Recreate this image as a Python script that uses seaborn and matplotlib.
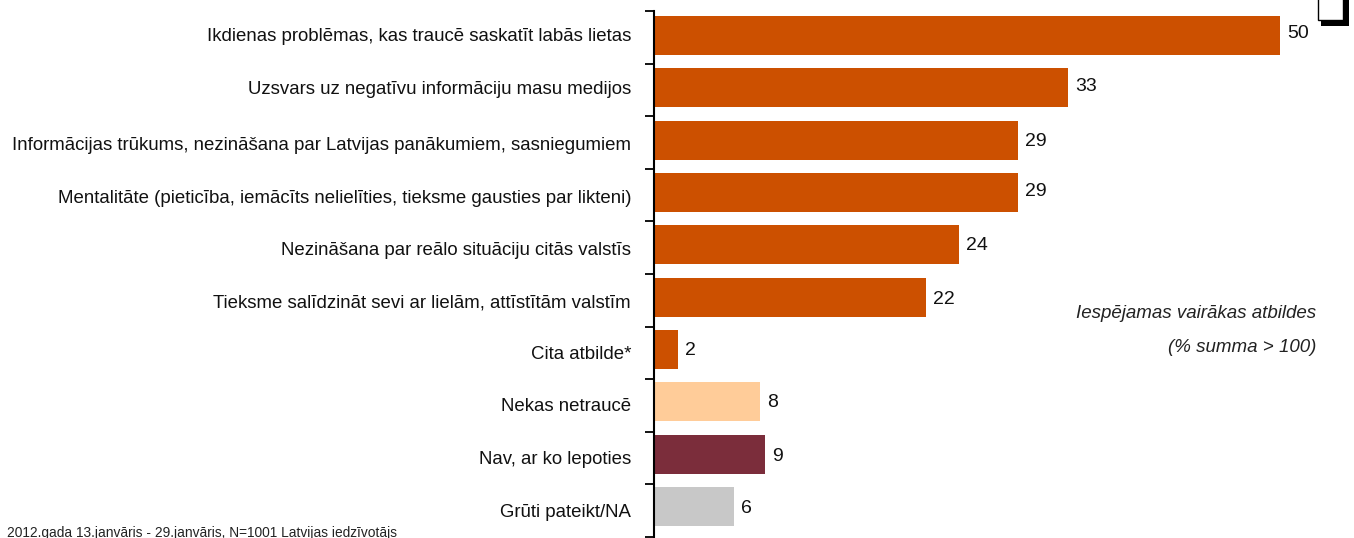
import matplotlib
matplotlib.use("Agg")
import matplotlib.pyplot as plt
from matplotlib.patches import Rectangle
from matplotlib.transforms import ScaledTranslation
import seaborn as sns
import pandas as pd
import numpy as np

categories = ["Ikdienas problēmas, kas traucē saskatīt labās lietas",
              "Uzsvars uz negatīvu informāciju masu medijos",
              "Informācijas trūkums, nezināšana par Latvijas panākumiem, sasniegumiem",
              "Mentalitāte (pieticība, iemācīts nelielīties, tieksme gausties par likteni)",
              "Nezināšana par reālo situāciju citās valstīs",
              "Tieksme salīdzināt sevi ar lielām, attīstītām valstīm",
              "Cita atbilde*", "Nekas netraucē", "Nav, ar ko lepoties", "Grūti pateikt/NA"]
values = [50, 33.1, 29.1, 29.1, 24.4, 21.7, 1.9, 8.5, 8.9, 6.4]
value_labels = ["50", "33", "29", "29", "24", "22", "2", "8", "9", "6"]
colors = ["#CC5000"] * 7 + ["#FFCC99", "#7B2D3B", "#C8C8C8"]
note = "Iespējamas vairākas atbildes\n(% summa > 100)"
footer = "2012.gada 13.janvāris - 29.janvāris, N=1001 Latvijas iedzīvotājs"

W, H = 1354, 538
sns.set_theme(style="white")
plt.rcParams["font.family"] = ["Liberation Sans", "DejaVu Sans"]
fig = plt.figure(figsize=(W / 100, H / 100), dpi=100)
ax = fig.add_axes([654 / W, 1 - 537 / H, (W - 654) / W, (537 - 11) / H])
df = pd.DataFrame({"c": categories, "v": values})
sns.barplot(data=df, y="c", x="v", hue="c", palette=colors, legend=False, width=0.745,
            ax=ax, saturation=1, linewidth=0)
ax.set_xlim(0, (W - 654) / 12.52)
y_top, y_bottom = -0.468, 9.58
ax.set_ylim(y_bottom, y_top)
ax.set_xlabel(""); ax.set_ylabel("")
ax.xaxis.set_visible(False)
for s in ["top", "right", "bottom"]:
    ax.spines[s].set_visible(False)
ax.spines["left"].set_linewidth(1.5)
ax.spines["left"].set_color("black")
ax.set_yticks(np.linspace(y_top, y_bottom, len(values) + 1), minor=True)
ax.set_yticks(range(len(values)))
ax.set_yticklabels(categories, fontsize=13.45, color="#111111")
ax.tick_params(axis="y", which="major", length=0, pad=16.5)
ax.tick_params(axis="y", which="minor", length=6.5, width=1.3, color="black", left=True)

# the reference's text rows drift slightly from the bar centres (pixels, positive = down)
label_nudge = [-1, 0, 3.5, 4, 4, 4, 3, 3, 3, 3.5]
value_nudge = [-2, -1, 1, -1, 1, 2, 1, 1, 2, 1.5]
for lab, n in zip(ax.get_yticklabels(), label_nudge):
    lab.set_transform(lab.get_transform() + ScaledTranslation(0, -n / 100, fig.dpi_scale_trans))
for i, (v, t) in enumerate(zip(values, value_labels)):
    ax.annotate(t, (v, i), xytext=(7, -value_nudge[i]), textcoords="offset pixels", va="center", ha="left",
                fontsize=14, color="#111111")
fig.text(1316 / W, 1 - 330.5 / H, note, ha="right", va="center", fontsize=13.5, style="italic",
         color="#222222", linespacing=2.28)
fig.text(7 / W, 1 - 533 / H, footer, ha="left", va="center", fontsize=9.9, color="#222222")
fig.add_artist(Rectangle((1321 / W, 1 - 26 / H), 28 / W, 26 / H, transform=fig.transFigure, fc="black", ec="none"))
fig.add_artist(Rectangle((1317.5 / W, 1 - 20 / H), 25 / W, 22 / H, transform=fig.transFigure, fc="white", ec="black", lw=1))
fig.savefig("out.png", dpi=100)
